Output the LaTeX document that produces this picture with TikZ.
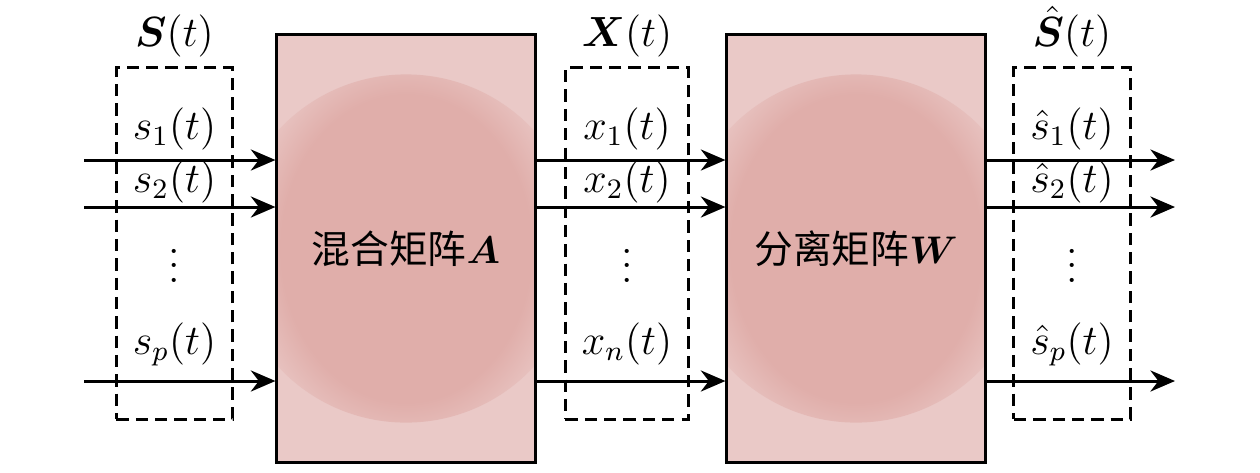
\documentclass[tikz,border=0pt]{standalone}
\usepackage{fontspec}
\usepackage{amsmath}
\usepackage{bm}
\newfontfamily\cjk{Noto Sans CJK SC}
\usetikzlibrary{arrows.meta}
\definecolor{blklight}{RGB}{234,201,199}
\definecolor{blkdark}{RGB}{224,174,170}
\pgfdeclareradialshading{blob}{\pgfpointorigin}{%
  color(0bp)=(blkdark); color(18bp)=(blkdark);
  color(25bp)=(blklight); color(50bp)=(blklight)}
\tikzset{
  blk/.style={
    draw, line width=0.85pt, fill=blklight, inner sep=0,
    minimum width=2.58cm, minimum height=4.27cm,
    font=\fontsize{11}{13}\selectfont,
    path picture={\shade[shading=blob] (path picture bounding box.center) circle (1.74cm);},
  },
  grp/.style={draw, line width=0.85pt, dash pattern=on 3.5pt off 2pt,
    minimum height=3.51cm, inner sep=0},
  sig/.style={line width=0.85pt, -{Stealth[length=7pt,width=6pt]}},
  lbl/.style={anchor=base, inner sep=0, font=\large},
  ttl/.style={anchor=base, inner sep=0, font=\large}
}

\begin{document}
\begin{tikzpicture}[x=0.01cm,y=-0.01cm]
  \useasboundingbox (0,0) rectangle (1260,472);

  \node[blk] (mixA) at (406,248.5) {\cjk 混合矩阵$\bm{A}$};
  \node[blk] (sepW) at (856,248.5) {\cjk 分离矩阵$\bm{W}$};

  \node[grp,minimum width=1.16cm] (src) at (174.5,243.5) {};
  \node[grp,minimum width=1.23cm] (obs) at (627,243.5) {};
  \node[grp,minimum width=1.16cm] (est) at (1072,243.5) {};

  \node[ttl] (srcname) at (src.center |- 0,46.5) {$\bm{S}(t)$};
  \node[ttl] (obsname) at (obs.center |- 0,46.5) {$\bm{X}(t)$};
  \node[ttl] (estname) at (est.center |- 0,46.5) {$\hat{\bm{S}}(t)$};

  \coordinate (in1) at (84,160);
  \coordinate (in2) at (84,207);
  \coordinate (inp) at (84,381);
  \coordinate (out1) at (1175,160);
  \coordinate (out2) at (1175,207);
  \coordinate (outp) at (1175,381);

  \foreach \k in {1,2,p} {
    \draw[sig] (in\k) -- (mixA.west |- in\k);
    \draw[sig] (mixA.east |- in\k) -- (sepW.west |- in\k);
    \draw[sig] (sepW.east |- in\k) -- (out\k);
  }

  % signal labels
  \node[lbl] (s1) at (src.center |- 0,139) {$s_1(t)$};
  \node[lbl] (s2) at (src.center |- 0,192.5) {$s_2(t)$};
  \node[lbl] (sdots) at (src.center |- 0,282) {$\vdots$};
  \node[lbl] (sp) at (src.center |- 0,354) {$s_p(t)$};

  \node[lbl] (x1) at (obs.center |- 0,139) {$x_1(t)$};
  \node[lbl] (x2) at (obs.center |- 0,192.5) {$x_2(t)$};
  \node[lbl] (xdots) at (obs.center |- 0,282) {$\vdots$};
  \node[lbl] (xn) at (obs.center |- 0,354) {$x_n(t)$};

  \node[lbl] (e1) at (est.center |- 0,139) {$\hat{s}_1(t)$};
  \node[lbl] (e2) at (est.center |- 0,192.5) {$\hat{s}_2(t)$};
  \node[lbl] (edots) at (est.center |- 0,282) {$\vdots$};
  \node[lbl] (ep) at (est.center |- 0,354) {$\hat{s}_p(t)$};
\end{tikzpicture}
\end{document}
